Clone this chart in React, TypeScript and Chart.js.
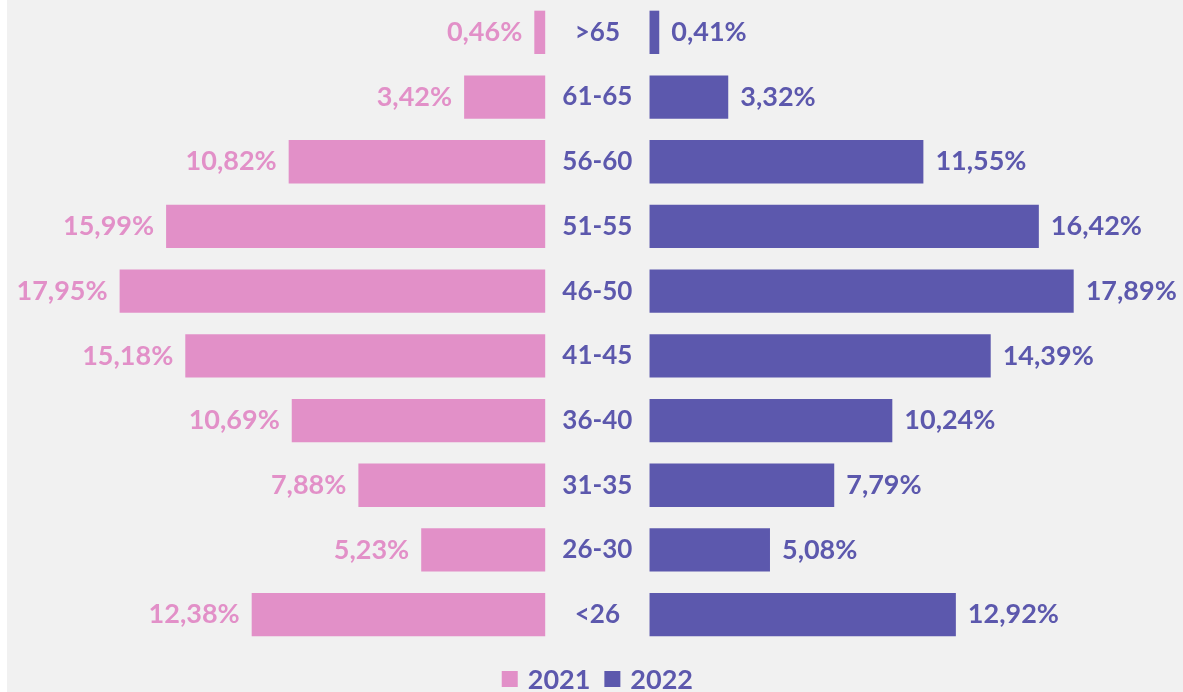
import React, { useEffect, useRef } from "react";
import { Chart, registerables } from "chart.js";

Chart.register(...registerables);

const categories = [">65", "61-65", "56-60", "51-55", "46-50", "41-45", "36-40", "31-35", "26-30", "<26"];
const values2021 = [0.46, 3.42, 10.82, 15.99, 17.95, 15.18, 10.69, 7.88, 5.23, 12.38];
const values2022 = [0.41, 3.32, 11.55, 16.42, 17.89, 14.39, 10.24, 7.79, 5.08, 12.92];
const seriesLabels = ["2021", "2022"];

const PINK = "#e290c8";
const PURPLE = "#5c58ad";
const COLORS = [PINK, PURPLE];
const FONT = "Lato, 'Open Sans', sans-serif";
const CENTER_GAP = 2.2;

const fmt = (v: number) => v.toFixed(2).replace(".", ",") + "%";

const labelPlugin = {
  id: "butterflyLabels",
  afterDatasetsDraw(chart: any) {
    const ctx = chart.ctx;
    const xScale = chart.scales.x;
    const yScale = chart.scales.y;
    ctx.save();
    ctx.font = `bold 27px ${FONT}`;
    ctx.textBaseline = "middle";
    chart.data.datasets.forEach((ds: any, di: number) => {
      const meta = chart.getDatasetMeta(di);
      const vals = di === 0 ? values2021 : values2022;
      meta.data.forEach((el: any, i: number) => {
        const { x, base, y } = el.getProps(["x", "base", "y"], true);
        if (di === 0) {
          ctx.fillStyle = PINK;
          ctx.textAlign = "right";
          ctx.fillText(fmt(vals[i]), Math.min(x, base) - 12, y);
        } else {
          ctx.fillStyle = PURPLE;
          ctx.textAlign = "left";
          ctx.fillText(fmt(vals[i]), Math.max(x, base) + 12, y);
        }
      });
    });
    ctx.font = `bold 26px ${FONT}`;
    ctx.fillStyle = PURPLE;
    ctx.textAlign = "center";
    const cx = xScale.getPixelForValue(0);
    categories.forEach((c, i) => {
      ctx.fillText(c, cx, yScale.getPixelForValue(i));
    });

    // legend
    ctx.font = `bold 27px ${FONT}`;
    ctx.textAlign = "left";
    const box = 16;
    const gapBoxText = 10;
    const gapItems = 14;
    const widths = seriesLabels.map((l) => ctx.measureText(l).width);
    const total = widths.reduce((a, w) => a + box + gapBoxText + w, 0) + gapItems * (seriesLabels.length - 1);
    let lx = cx - total / 2;
    const ly = 679;
    seriesLabels.forEach((l, i) => {
      ctx.fillStyle = COLORS[i];
      ctx.fillRect(lx, ly - box / 2, box, box);
      lx += box + gapBoxText;
      ctx.fillStyle = PURPLE;
      ctx.fillText(l, lx, ly + 1);
      lx += widths[i] + gapItems;
    });
    ctx.restore();
  },
};

export default function App() {
  const ref = useRef<HTMLCanvasElement | null>(null);
  useEffect(() => {
    if (!ref.current) return;
    const chart = new Chart(ref.current, {
      type: "bar",
      data: {
        labels: categories,
        datasets: [
          {
            label: seriesLabels[0],
            data: values2021.map((v) => [-CENTER_GAP, -CENTER_GAP - v]) as any,
            backgroundColor: PINK,
            grouped: false,
            barPercentage: 0.67,
            categoryPercentage: 1,
          },
          {
            label: seriesLabels[1],
            data: values2022.map((v) => [CENTER_GAP, CENTER_GAP + v]) as any,
            backgroundColor: PURPLE,
            grouped: false,
            barPercentage: 0.67,
            categoryPercentage: 1,
          },
        ],
      },
      options: {
        indexAxis: "y",
        animation: false,
        responsive: true,
        maintainAspectRatio: false,
        layout: { padding: { top: 0, left: 0, right: 0, bottom: 45 } },
        scales: {
          x: { display: false, min: -24.9, max: 24.7 },
          y: { display: false },
        },
        plugins: {
          tooltip: { enabled: false },
          legend: { display: false },
        },
      } as any,
      plugins: [labelPlugin],
    });
    return () => chart.destroy();
  }, []);
  return (
    <div
      style={{
        position: "fixed",
        left: 7,
        top: 0,
        width: 1176,
        height: 692,
        background: "#f1f1f1",
      }}
    >
      <canvas ref={ref} />
    </div>
  );
}
